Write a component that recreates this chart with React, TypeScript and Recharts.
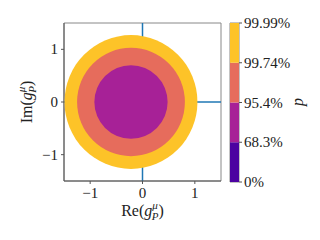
import React from "react";
import {
  ScatterChart, Scatter, XAxis, YAxis, ReferenceLine,
  BarChart, Bar, ReferenceArea,
} from "recharts";

// ---- data ----
const ringCenterX = [-0.22, -0.22, -0.22];
const ringCenterY = [0, 0, 0];
const ringRadius = [1.27, 1.03, 0.7];
const ringColors = ["#fdc328", "#e66c5c", "#a72197"];

const axisTicks = [-1, 0, 1];
const axisDomain = [-1.5, 1.5];

const cbarLevels = ["0%", "68.3%", "95.4%", "99.74%", "99.99%"];
const cbarColors = ["#4c02a1", "#a72197", "#e66c5c", "#fdc328"];

// ---- layout ----
const W = 320, H = 240;
const M = { top: 23, right: 99, left: 4, bottom: 19 };
const Y_W = 60, X_H = 40;
const PLOT_W = W - M.left - M.right - Y_W;
const PLOT_H = H - M.top - M.bottom - X_H;
const SPAN = axisDomain[1] - axisDomain[0];

const FONT = "'Liberation Serif', 'DejaVu Serif', serif";

const rings = ringRadius.map((r, i) => ({
  x: ringCenterX[i], y: ringCenterY[i], r, fill: ringColors[i],
}));

const fmt = (v: number) => (v < 0 ? "\u2212" + Math.abs(v) : String(v));

const RingShape = (props: any) => {
  const { cx, cy, payload } = props;
  return (
    <ellipse
      cx={cx}
      cy={cy}
      rx={(payload.r * PLOT_W) / SPAN}
      ry={(payload.r * PLOT_H) / SPAN}
      fill={payload.fill}
    />
  );
};

const XTick = (props: any) => {
  const { x, y, payload } = props;
  return (
    <text x={x} y={y + 12} textAnchor="middle" fontFamily={FONT} fontSize={15} fill="#222">
      {fmt(payload.value)}
    </text>
  );
};

const YTick = (props: any) => {
  const { x, y, payload } = props;
  return (
    <text x={x} y={y + 5} textAnchor="end" fontFamily={FONT} fontSize={15} fill="#222">
      {fmt(payload.value)}
    </text>
  );
};

const CbarTick = (props: any) => {
  const { x, y, payload } = props;
  return (
    <text x={x} y={y + 5} textAnchor="start" fontFamily={FONT} fontSize={15} fill="#222">
      {cbarLevels[payload.value]}
    </text>
  );
};

const GLabel = ({ x, y, prefix, rotate }: any) => (
  <text
    x={x}
    y={y}
    textAnchor="middle"
    fontFamily={FONT}
    fontSize={16}
    fill="#222"
    transform={rotate ? `rotate(-90 ${x} ${y})` : undefined}
  >
    {prefix}(
    <tspan fontStyle="italic">g</tspan>
    <tspan fontStyle="italic" fontSize={11} dy={-7}>μ</tspan>
    <tspan fontStyle="italic" fontSize={11} dx={-6} dy={11}>P</tspan>
    <tspan dy={-4}>)</tspan>
  </text>
);

const cbarRow = [
  cbarColors.reduce((o: any, _c, i) => ({ ...o, ["s" + i]: 1 }), { name: "p" }),
];

export default function App() {
  return (
    <div style={{ position: "absolute", left: 0, top: 0, width: W, height: H, background: "#fff" }}>
      <div style={{ position: "absolute", left: 0, top: 0 }}>
        <ScatterChart width={W} height={H} margin={M}>
          <XAxis
            type="number"
            dataKey="x"
            domain={axisDomain}
            ticks={axisTicks}
            height={X_H}
            tickSize={3}
            tickMargin={2}
            stroke="#555"
            tick={<XTick />}
            allowDataOverflow
            label={{
              content: (p: any) => (
                <GLabel x={p.viewBox.x + p.viewBox.width / 2} y={216} prefix="Re" />
              ),
            }}
          />
          <YAxis
            type="number"
            dataKey="y"
            domain={axisDomain}
            ticks={axisTicks}
            width={Y_W}
            tickSize={3}
            tickMargin={3}
            stroke="#555"
            tick={<YTick />}
            allowDataOverflow
            label={{
              content: (p: any) => (
                <GLabel x={32} y={p.viewBox.y + p.viewBox.height / 2} prefix="Im" rotate />
              ),
            }}
          />
          <Scatter data={rings} shape={RingShape} isAnimationActive={false} />
          <ReferenceLine
            segment={[{ x: 0, y: axisDomain[0] }, { x: 0, y: axisDomain[1] }]}
            stroke="#1f77b4"
            strokeWidth={1.5}
          />
          <ReferenceLine
            segment={[{ x: axisDomain[0], y: 0 }, { x: axisDomain[1], y: 0 }]}
            stroke="#1f77b4"
            strokeWidth={1.5}
          />
          <ReferenceArea
            x1={axisDomain[0]}
            x2={axisDomain[1]}
            y1={axisDomain[0]}
            y2={axisDomain[1]}
            fill="none"
            stroke="#888"
            strokeWidth={1}
          />
        </ScatterChart>
      </div>
      <div style={{ position: "absolute", left: 0, top: 0 }}>
        <BarChart
          width={W}
          height={H}
          data={cbarRow}
          margin={{ top: 23, right: 31, left: 230, bottom: 58 }}
          barCategoryGap={0}
        >
          <XAxis dataKey="name" hide />
          <YAxis
            orientation="right"
            type="number"
            domain={[0, cbarColors.length]}
            ticks={cbarLevels.map((_l, i) => i)}
            width={50}
            tickSize={3}
            tickMargin={2}
            axisLine={false}
            stroke="#555"
            tick={<CbarTick />}
            interval={0}
          />
          {cbarColors.map((c, i) => (
            <Bar key={i} dataKey={"s" + i} stackId="cb" fill={c} isAnimationActive={false} />
          ))}
          <ReferenceArea y1={0} y2={cbarColors.length} fill="none" stroke="#888" strokeWidth={1} />
        </BarChart>
      </div>
      <svg width={W} height={H} style={{ position: "absolute", left: 0, top: 0, pointerEvents: "none" }}>
        <text
          x={303}
          y={102}
          textAnchor="middle"
          fontFamily={FONT}
          fontStyle="italic"
          fontSize={16}
          fill="#222"
          transform="rotate(-90 303 102)"
        >
          p
        </text>
      </svg>
    </div>
  );
}
